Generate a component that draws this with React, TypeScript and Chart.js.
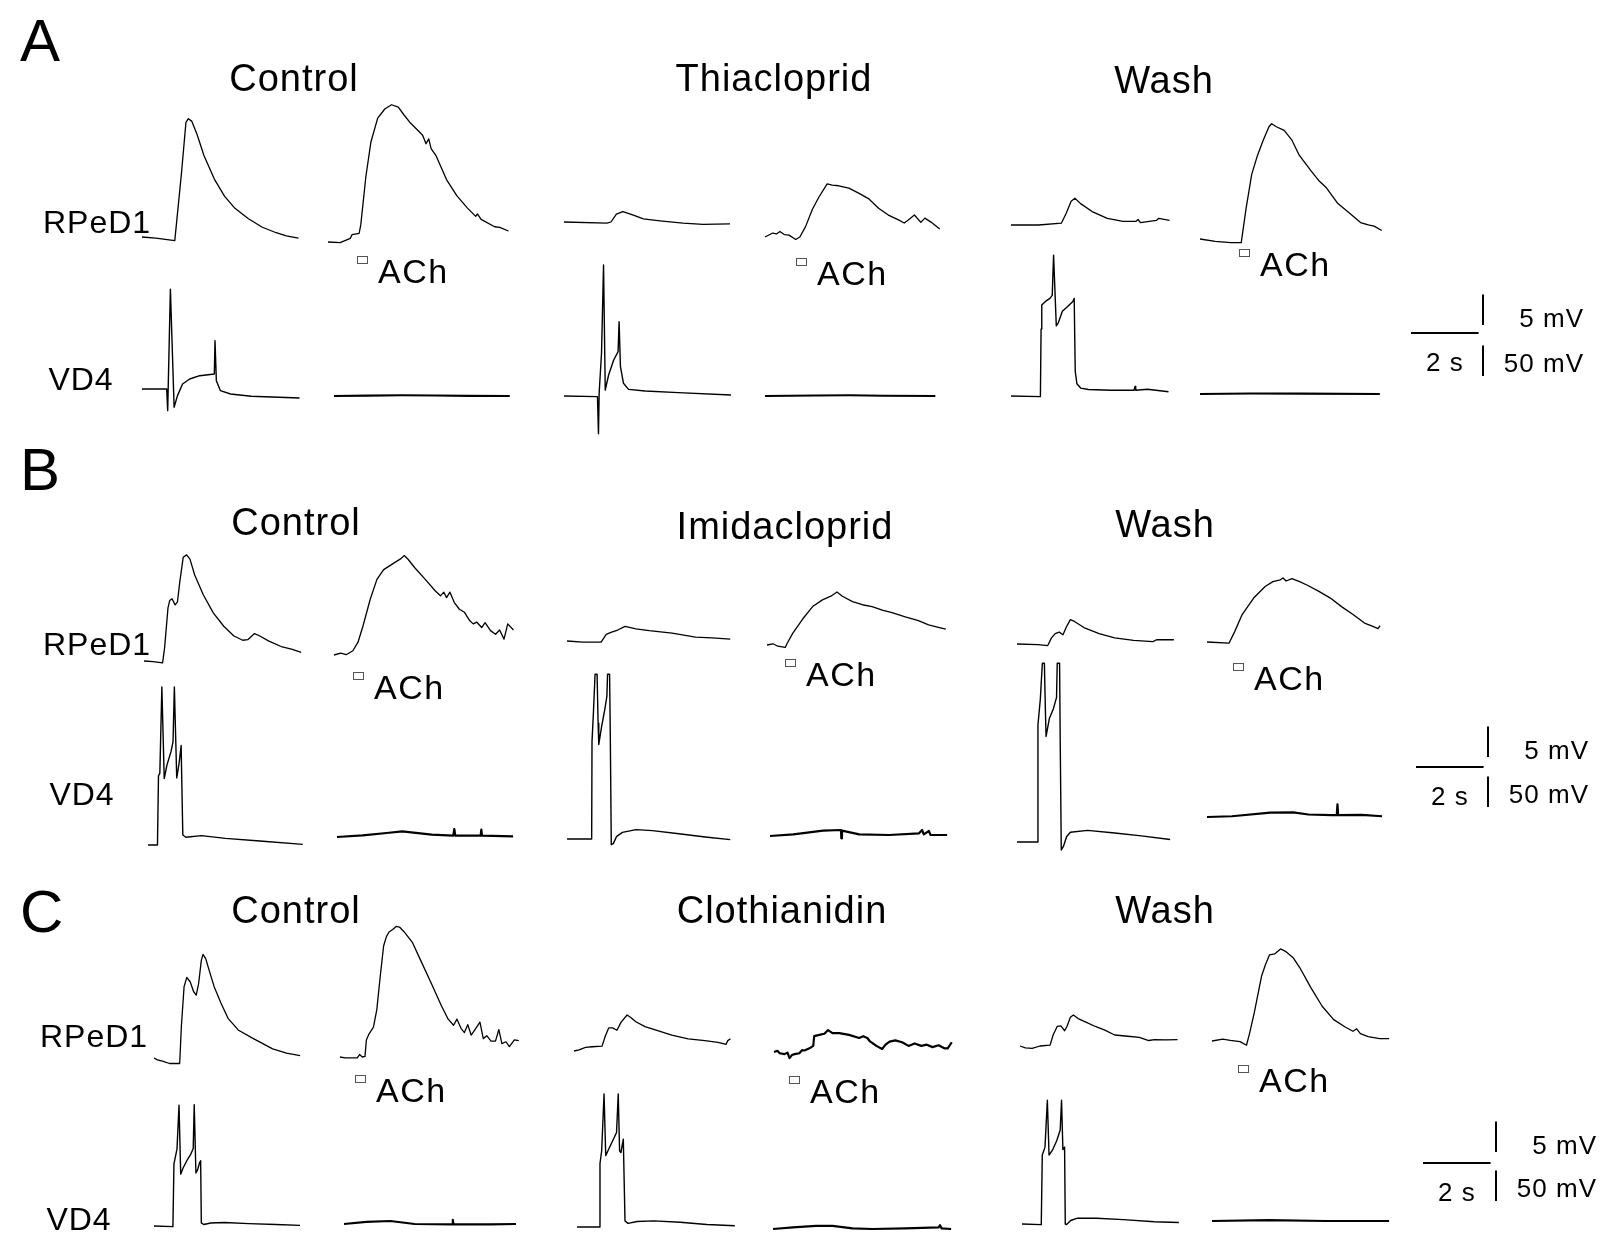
import { useEffect, useRef } from 'react';
import { Chart, registerables } from 'chart.js';

Chart.register(...registerables);

// ---- Recorded traces: [time from trace start (s), potential relative to trace start (mV)] ----

// Panel A – Thiacloprid
const A_CONTROL_RPED1_VD4: [number, number][] = [[0,0],[0.41,-0.2],[0.97,-0.6],[1.17,10.6],[1.30,18.8],[1.37,19.4],[1.47,19.0],[1.63,16.8],[1.83,13.4],[2.14,9.5],[2.44,6.7],[2.75,4.7],[3.15,3.0],[3.56,1.6],[3.97,0.7],[4.27,0.2],[4.63,-0.2]];
const A_CONTROL_RPED1_ACH: [number, number][] = [[0,0],[0.36,-0.1],[0.66,0.6],[0.71,1.2],[0.92,1.4],[0.97,2.8],[1.12,10.7],[1.27,16.4],[1.47,20.3],[1.68,21.8],[1.88,22.5],[2.08,22.1],[2.24,20.9],[2.44,19.5],[2.64,18.4],[2.80,17.5],[2.90,16.1],[2.98,16.9],[3.05,15.3],[3.20,14.1],[3.51,10.2],[3.81,7.6],[4.12,5.6],[4.37,4.2],[4.42,4.6],[4.53,3.7],[4.93,2.5],[5.08,2.4],[5.34,1.8]];
const A_CONTROL_VD4_STIM: [number, number][] = [[0,0],[0.73,0],[0.76,-35.5],[0.84,163.8],[0.95,-30],[1.05,-10.9],[1.20,8.2],[1.41,16.4],[1.71,21.8],[2.14,24.6],[2.16,79.2],[2.20,13.7],[2.32,-2.7],[2.62,-8.2],[3.23,-12],[4.66,-14.7]];
const A_CONTROL_VD4_ACH: [number, number][] = [[0,0],[1.0,0.6],[2.0,1.2],[3.0,0.8],[4.0,0.3],[5.2,0]];
const A_THIA_RPED1_VD4: [number, number][] = [[0,0],[1.27,-0.2],[1.39,0],[1.55,1.3],[1.74,1.7],[2.01,1.2],[2.35,0.5],[2.84,0.2],[3.52,-0.2],[4.11,-0.4],[4.91,-0.3]];
const A_THIA_RPED1_ACH: [number, number][] = [[0,0],[0.23,0.65],[0.34,0.5],[0.44,0.9],[0.57,0.4],[0.71,0.3],[0.91,-0.4],[1.03,0],[1.20,1.7],[1.40,4.5],[1.60,6.6],[1.84,8.7],[1.99,8.5],[2.18,8.4],[2.48,8.0],[2.77,7.2],[3.06,6.3],[3.36,4.7],[3.65,3.6],[3.95,2.8],[4.12,2.3],[4.24,2.8],[4.42,3.6],[4.61,2.4],[4.73,3.1],[4.92,2.4],[5.17,1.3]];
const A_THIA_VD4_STIM: [number, number][] = [[0,0],[0.99,-1.1],[1.02,-62],[1.04,4.4],[1.11,70],[1.17,214.8],[1.22,9.8],[1.32,34.4],[1.47,59],[1.60,72.7],[1.63,121.9],[1.67,48.1],[1.76,20.8],[1.91,10.9],[2.40,8.2],[3.38,5.5],[4.94,1.6]];
const A_THIA_VD4_ACH: [number, number][] = [[0,0],[1.5,0.8],[2.5,1.2],[3.5,0.4],[5.04,0]];
const A_WASH_RPED1_VD4: [number, number][] = [[0,0],[0.82,0],[1.49,0.3],[1.63,1.9],[1.78,3.9],[1.89,4.4],[2.06,3.5],[2.40,2.2],[2.85,1.1],[3.31,0.6],[3.70,0.6],[3.76,0.9],[3.83,0.4],[4.30,0.75],[4.37,1.1],[4.69,0.75]];
const A_WASH_RPED1_ACH: [number, number][] = [[0,0],[0.45,-0.4],[0.91,-0.6],[1.22,-0.6],[1.36,4.9],[1.53,10.6],[1.70,13.7],[1.87,16.2],[2.04,18.4],[2.12,18.9],[2.26,18.4],[2.49,17.8],[2.72,16.2],[2.94,13.7],[3.28,11.2],[3.51,9.6],[3.74,8.4],[4.08,5.8],[4.41,4.3],[4.75,2.7],[4.98,2.3],[5.15,2.1],[5.38,1.4]];
const A_WASH_VD4_STIM: [number, number][] = [[0,0],[0.87,-1],[0.89,110],[0.91,149],[1.02,155],[1.15,160],[1.22,165],[1.26,231],[1.30,173],[1.34,115],[1.40,120],[1.52,139],[1.66,146],[1.83,155],[1.87,160],[1.90,41],[1.95,20],[2.06,13],[2.29,10.6],[2.97,9.5],[3.64,9.5],[3.67,15.8],[3.69,9.5],[4.04,11],[4.66,6.9]];
const A_WASH_VD4_ACH: [number, number][] = [[0,0],[1.5,0.8],[3.0,0.5],[5.32,0]];

// Panel B – Imidacloprid
const B_CONTROL_RPED1_VD4: [number, number][] = [[0,0],[0.27,-0.1],[0.55,-0.3],[0.61,2.2],[0.71,8.7],[0.76,9.9],[0.83,10.2],[0.92,9.2],[0.99,9.7],[1.06,13.0],[1.16,17.0],[1.26,17.4],[1.36,16.7],[1.50,14.1],[1.75,10.9],[2.05,7.9],[2.36,5.7],[2.66,4.1],[2.92,3.4],[3.07,3.5],[3.27,4.5],[3.43,4.1],[3.68,3.3],[4.09,2.3],[4.39,1.9],[4.65,1.4]];
const B_CONTROL_RPED1_ACH: [number, number][] = [[0,0],[0.20,0.3],[0.36,0.05],[0.56,0.7],[0.71,2.1],[0.86,4.8],[1.07,9.1],[1.27,12.4],[1.47,14.0],[1.78,15.1],[1.98,15.8],[2.08,16.3],[2.19,15.7],[2.39,14.3],[2.70,12.4],[3.00,10.5],[3.15,9.7],[3.25,10.3],[3.33,9.4],[3.43,10.3],[3.56,8.6],[3.71,7.5],[3.86,7.0],[4.02,5.6],[4.12,5.1],[4.22,5.4],[4.37,4.5],[4.47,5.3],[4.63,4.0],[4.78,3.4],[4.90,4.1],[5.03,2.6],[5.14,5.1],[5.31,4.1]];
const B_CONTROL_VD4_STIM: [number, number][] = [[0,0],[0.28,0],[0.31,113.6],[0.35,117.4],[0.41,259],[0.48,109],[0.56,131],[0.68,153],[0.74,169],[0.78,259],[0.85,110],[0.92,134],[0.98,163],[1.03,16.4],[1.12,12.6],[1.58,15.3],[2.29,10.9],[3.31,6.6],[4.58,1.1]];
const B_CONTROL_VD4_ACH: [number, number][] = [[0,0],[0.76,2.7],[1.47,6.6],[1.93,9.3],[2.80,3.8],[3.44,2.2],[3.47,13.1],[3.50,2.2],[4.25,2.2],[4.27,12],[4.29,2.2],[5.21,1.1]];
const B_IMIDA_RPED1_VD4: [number, number][] = [[0,0],[0.47,-0.2],[1.01,-0.2],[1.16,1.1],[1.30,1.4],[1.50,1.8],[1.72,2.4],[2.04,2.0],[2.43,1.7],[3.11,1.3],[3.80,0.65],[4.29,0.5],[4.83,0.3]];
const B_IMIDA_RPED1_ACH: [number, number][] = [[0,0],[0.18,0.2],[0.32,-0.2],[0.54,-0.4],[0.59,0.2],[0.76,1.9],[1.06,4.3],[1.35,6.3],[1.64,7.4],[1.89,8.0],[2.07,8.7],[2.23,8.0],[2.53,7.1],[2.82,6.6],[3.11,6.3],[3.41,5.7],[3.70,5.3],[4.09,4.6],[4.48,4.0],[4.78,3.3],[5.07,2.9],[5.29,2.6]];
const B_IMIDA_VD4_STIM: [number, number][] = [[0,0],[0.73,0],[0.74,160],[0.78,205],[0.83,270],[0.89,270],[0.92,190],[0.94,155],[1.02,183],[1.12,213],[1.18,234],[1.20,270],[1.26,270],[1.28,175],[1.31,-9.3],[1.37,-7.6],[1.47,4.4],[1.64,10.9],[2.04,15.3],[2.53,13.7],[3.31,8.7],[4.09,3.3],[4.83,-1.1]];
const B_IMIDA_VD4_ACH: [number, number][] = [[0,0],[0.69,2.7],[1.57,8.7],[2.10,9.8],[2.11,-3.8],[2.13,8.7],[2.64,2.7],[3.52,1.6],[4.41,4.4],[4.50,9.8],[4.55,2.7],[4.70,8.2],[4.75,1.6],[5.24,1.6]];
const B_WASH_RPED1_VD4: [number, number][] = [[0,0],[0.62,-0.1],[0.91,-0.25],[1.02,1.0],[1.13,1.7],[1.25,1.95],[1.36,1.5],[1.47,2.9],[1.58,4.0],[1.70,3.7],[1.98,2.7],[2.43,1.7],[2.89,1.0],[3.45,0.6],[4.02,0.4],[4.13,0.7],[4.64,0.7]];
const B_WASH_RPED1_ACH: [number, number][] = [[0,0],[0.65,-0.2],[0.82,1.7],[1.04,4.5],[1.38,7.2],[1.72,9.1],[1.95,9.9],[2.17,10.2],[2.25,10.5],[2.34,10.0],[2.51,10.4],[2.74,9.9],[2.97,9.3],[3.31,8.3],[3.65,7.2],[3.98,5.8],[4.32,4.5],[4.66,3.1],[4.89,2.6],[5.06,2.2],[5.12,2.7]];
const B_WASH_VD4_STIM: [number, number][] = [[0,0],[0.60,0],[0.62,192],[0.69,234],[0.75,293],[0.81,293],[0.84,216],[0.86,173],[0.96,203],[1.08,219],[1.17,237],[1.19,293],[1.26,293],[1.28,157],[1.31,-13],[1.37,-7.7],[1.47,8.9],[1.58,16],[2.09,19],[2.89,14.8],[3.68,10],[4.53,4.1]];
const B_WASH_VD4_ACH: [number, number][] = [[0,0],[0.74,1.2],[1.87,7.1],[2.55,7.7],[3.00,4.1],[3.68,3],[3.84,3],[3.86,20.7],[3.88,3],[4.58,3.6],[5.18,1.2]];

// Panel C – Clothianidin
const C_CONTROL_RPED1_VD4: [number, number][] = [[0,0],[0.10,-0.3],[0.25,-0.5],[0.46,-0.9],[0.76,-0.9],[0.81,5.2],[0.89,11.7],[0.97,13.2],[1.07,12.5],[1.17,10.9],[1.25,10.3],[1.32,12.2],[1.40,16.0],[1.45,17.0],[1.53,16.3],[1.63,14.4],[1.78,11.7],[1.98,9.0],[2.19,6.5],[2.49,4.6],[2.90,3.3],[3.51,1.5],[3.92,0.8],[4.32,0.4]];
const C_CONTROL_RPED1_ACH: [number, number][] = [[0,0],[0.15,-0.15],[0.51,-0.15],[0.58,0.4],[0.66,0],[0.74,0.1],[0.78,2.8],[0.86,3.8],[0.99,4.9],[1.09,7.8],[1.19,13.2],[1.29,18.2],[1.37,19.7],[1.45,20.5],[1.56,20.9],[1.66,21.4],[1.76,21.3],[1.90,20.5],[2.14,18.8],[2.39,15.8],[2.70,12.1],[3.00,8.4],[3.20,6.2],[3.36,5.2],[3.46,6.2],[3.58,4.7],[3.68,4.0],[3.78,5.3],[3.88,3.6],[4.01,4.6],[4.14,5.7],[4.24,3.0],[4.34,3.5],[4.47,2.6],[4.60,2.6],[4.70,4.5],[4.79,2.2],[4.91,2.5],[5.01,1.7],[5.16,2.8],[5.29,2.7]];
const C_CONTROL_VD4_STIM: [number, number][] = [[0,0],[0.56,-1],[0.59,102],[0.68,126],[0.74,198],[0.79,85],[0.86,95],[0.99,109],[1.09,118],[1.16,127],[1.19,199],[1.24,87],[1.29,92],[1.35,104],[1.38,107],[1.40,5],[1.47,2.4],[1.68,4.9],[2.08,5.8],[2.80,3.9],[3.61,2.4],[4.32,1]];
const C_CONTROL_VD4_ACH: [number, number][] = [[0,0],[0.66,3.4],[1.37,4.9],[2.09,0],[3.20,-0.5],[3.22,6.8],[3.24,-0.5],[4.32,-0.5],[5.09,0]];
const C_CLOTH_RPED1_VD4: [number, number][] = [[0,0],[0.15,0.2],[0.34,0.6],[0.54,0.7],[0.83,0.8],[0.93,2.5],[1.03,3.8],[1.14,3.8],[1.27,3.4],[1.39,4.7],[1.57,5.9],[1.68,5.5],[1.83,4.8],[2.10,4.0],[2.50,3.3],[2.89,2.6],[3.38,2.0],[3.87,1.7],[4.26,1.4],[4.50,1.1],[4.55,1.7],[4.63,2.0]];
const C_CLOTH_RPED1_ACH: [number, number][] = [[0,0],[0.10,0.2],[0.17,-0.2],[0.31,-0.35],[0.40,-0.1],[0.46,-1.0],[0.53,-0.5],[0.61,-0.35],[0.75,-0.2],[0.83,0.3],[0.90,0.25],[1.05,0.6],[1.16,1.0],[1.19,2.6],[1.34,2.8],[1.49,3.0],[1.60,3.6],[1.73,3.1],[1.93,3.1],[2.22,2.8],[2.52,2.3],[2.64,2.6],[2.76,2.3],[2.83,1.8],[3.03,1.0],[3.20,0.5],[3.30,1.2],[3.42,1.7],[3.59,1.9],[3.79,1.6],[3.98,1.0],[4.16,1.4],[4.36,1.0],[4.52,1.2],[4.69,0.8],[4.87,1.1],[5.04,0.6],[5.14,0.6],[5.26,1.6]];
const C_CLOTH_VD4_STIM: [number, number][] = [[0,0],[0.66,0],[0.68,104],[0.73,125],[0.80,218],[0.85,117],[0.95,129],[1.07,143],[1.17,155],[1.22,218],[1.26,125],[1.30,122],[1.37,144],[1.42,10],[1.51,6],[1.78,9],[2.27,10],[3.05,7.8],[3.84,4.2],[4.67,2]];
const C_CLOTH_VD4_ACH: [number, number][] = [[0,0],[0.59,2.6],[1.27,5.2],[1.76,5.2],[2.35,1],[2.94,0],[3.92,1],[4.90,2.6],[4.94,6.2],[4.99,1],[5.27,0]];
const C_WASH_RPED1_VD4: [number, number][] = [[0,0],[0.16,-0.3],[0.36,-0.4],[0.59,0],[0.89,0.15],[0.98,1.8],[1.10,3.2],[1.21,3.3],[1.32,2.5],[1.39,3.2],[1.49,4.7],[1.58,5.1],[1.72,4.5],[1.95,3.9],[2.23,3.2],[2.51,2.6],[2.80,1.8],[3.19,1.6],[3.53,1.4],[3.81,0.9],[3.98,1.05],[4.32,1.0],[4.66,1.05]];
const C_WASH_RPED1_ACH: [number, number][] = [[0,0],[0.32,0.3],[0.54,0.1],[0.83,-0.1],[1.02,-0.7],[1.11,1.2],[1.25,4.6],[1.40,8.8],[1.47,10.7],[1.58,12.5],[1.70,14.1],[1.86,14.3],[2.03,15.1],[2.20,14.6],[2.41,13.6],[2.60,12.0],[2.92,8.8],[3.26,5.7],[3.60,3.5],[3.94,2.3],[4.17,1.6],[4.28,2.0],[4.39,1.2],[4.62,0.7],[4.96,0.4],[5.24,0.4]];
const C_WASH_VD4_STIM: [number, number][] = [[0,0],[0.57,-1],[0.60,113],[0.68,126],[0.75,203],[0.80,113],[0.91,122],[1.03,137],[1.13,154],[1.17,203],[1.21,122],[1.26,126],[1.28,0],[1.32,-1],[1.44,5.7],[1.64,9.5],[2.21,9.5],[3.00,7.1],[3.91,3.8],[4.64,2.4]];
const C_WASH_VD4_ACH: [number, number][] = [[0,0],[1.68,1.4],[3.37,0],[5.24,0]];

// ---- Labels ----
const PANEL_LETTERS = ['A', 'B', 'C'];
const PANEL_CONDITIONS = [
  ['Control', 'Thiacloprid', 'Wash'],
  ['Control', 'Imidacloprid', 'Wash'],
  ['Control', 'Clothianidin', 'Wash'],
];
const ROW_LABELS = ['RPeD1', 'VD4'];
const AGONIST_LABEL = 'ACh';

// ---- Scale bars ----
const SCALE_TIME_S = 2;
const SCALE_RPED1_MV = 5;
const SCALE_VD4_MV = 50;

// Traces per panel: for each condition [RPeD1 after VD4, RPeD1 with ACh, VD4 stimulated, VD4 with ACh]
const PANEL_TRACES = [
  [
    [A_CONTROL_RPED1_VD4, A_CONTROL_RPED1_ACH, A_CONTROL_VD4_STIM, A_CONTROL_VD4_ACH],
    [A_THIA_RPED1_VD4, A_THIA_RPED1_ACH, A_THIA_VD4_STIM, A_THIA_VD4_ACH],
    [A_WASH_RPED1_VD4, A_WASH_RPED1_ACH, A_WASH_VD4_STIM, A_WASH_VD4_ACH],
  ],
  [
    [B_CONTROL_RPED1_VD4, B_CONTROL_RPED1_ACH, B_CONTROL_VD4_STIM, B_CONTROL_VD4_ACH],
    [B_IMIDA_RPED1_VD4, B_IMIDA_RPED1_ACH, B_IMIDA_VD4_STIM, B_IMIDA_VD4_ACH],
    [B_WASH_RPED1_VD4, B_WASH_RPED1_ACH, B_WASH_VD4_STIM, B_WASH_VD4_ACH],
  ],
  [
    [C_CONTROL_RPED1_VD4, C_CONTROL_RPED1_ACH, C_CONTROL_VD4_STIM, C_CONTROL_VD4_ACH],
    [C_CLOTH_RPED1_VD4, C_CLOTH_RPED1_ACH, C_CLOTH_VD4_STIM, C_CLOTH_VD4_ACH],
    [C_WASH_RPED1_VD4, C_WASH_RPED1_ACH, C_WASH_VD4_STIM, C_WASH_VD4_ACH],
  ],
];

// Noisier recordings drawn with a heavier stroke
const HEAVY_TRACES = new Set<[number, number][]>([C_CLOTH_RPED1_ACH]);

// ---- Page layout (canvas pixels) ----
const W = 1602;
const H = 1254;
const PX_PER_S = 33.8;
const PX_PER_MV_RPED1 = 6.1;
const PX_PER_MV_VD4 = 0.61;
const FONT = '"Liberation Sans", Arial, sans-serif';

type Pt = [number, number];
interface PanelLayout {
  letterY: number;
  titles: Pt[];
  rowLabels: Pt[];
  ach: Pt[];
  bar: { x: number; y: number; vx: number; b5: number; b50: number };
  traces: Pt[][]; // per condition: start point (left, zero level) of each trace
}

const LAYOUT: PanelLayout[] = [
  {
    letterY: 39,
    titles: [[294, 77], [774, 77], [1164, 79]],
    rowLabels: [[97, 221], [81, 378]],
    ach: [[378, 271], [817, 273], [1260, 264]],
    bar: { x: 1411, y: 333, vx: 1483, b5: 325, b50: 376 },
    traces: [
      [[142, 237], [328, 242], [142, 389], [334, 396]],
      [[564, 222], [765, 237], [564, 396], [765, 396]],
      [[1011, 225], [1200, 239], [1011, 396], [1200, 394]],
    ],
  },
  {
    letterY: 468,
    titles: [[296, 521], [785, 525], [1165, 523]],
    rowLabels: [[97, 643], [82, 793]],
    ach: [[374, 687], [806, 674], [1254, 678]],
    bar: { x: 1416, y: 767, vx: 1488, b5: 757, b50: 807 },
    traces: [
      [[144, 661], [334, 655], [148, 845], [337, 837]],
      [[567, 641], [767, 645], [567, 839], [770, 836]],
      [[1017, 644], [1207, 642], [1017, 842], [1207, 817]],
    ],
  },
  {
    letterY: 910,
    titles: [[296, 909], [782, 909], [1165, 909]],
    rowLabels: [[94, 1035], [79, 1218]],
    ach: [[376, 1090], [810, 1091], [1259, 1080]],
    bar: { x: 1423, y: 1163, vx: 1496, b5: 1152, b50: 1201 },
    traces: [
      [[154, 1058], [340, 1057], [154, 1226], [344, 1224]],
      [[574, 1051], [774, 1052], [577, 1227], [773, 1229]],
      [[1020, 1046], [1212, 1041], [1022, 1224], [1212, 1221]],
    ],
  },
];

const sec = (px: number) => px / PX_PER_S;
const mvR = (py: number) => (H - py) / PX_PER_MV_RPED1;
const mvV = (py: number) => (H - py) / PX_PER_MV_VD4;

function buildDatasets() {
  const sets: any[] = [];
  PANEL_TRACES.forEach((panel, p) => {
    panel.forEach((cond, c) => {
      cond.forEach((trace, k) => {
        const [left, zero] = LAYOUT[p].traces[c][k];
        const isVD4 = k >= 2;
        const x0 = sec(left);
        const y0 = isVD4 ? mvV(zero) : mvR(zero);
        sets.push({
          data: trace.map(([t, v]) => ({ x: x0 + t, y: y0 + v })),
          yAxisID: isVD4 ? 'yV' : 'yR',
          borderColor: '#000',
          borderWidth: HEAVY_TRACES.has(trace) ? 2.2 : k === 3 ? 2.2 : k === 2 ? 1.4 : 1.3,
        });
      });
    });
    const b = LAYOUT[p].bar;
    const bar = (data: { x: number; y: number }[], axis: string) =>
      sets.push({ data, yAxisID: axis, borderColor: '#000', borderWidth: 2 });
    bar([{ x: sec(b.x), y: mvR(b.y) }, { x: sec(b.x) + SCALE_TIME_S, y: mvR(b.y) }], 'yR');
    bar([{ x: sec(b.vx), y: mvR(b.b5) }, { x: sec(b.vx), y: mvR(b.b5) + SCALE_RPED1_MV }], 'yR');
    bar([{ x: sec(b.vx), y: mvV(b.b50) }, { x: sec(b.vx), y: mvV(b.b50) + SCALE_VD4_MV }], 'yV');
  });
  return sets;
}

function drawText(ctx: CanvasRenderingContext2D, text: string, x: number, cy: number, size: number, align: CanvasTextAlign, spacing: number) {
  ctx.font = `${size}px ${FONT}`;
  (ctx as any).letterSpacing = `${spacing}px`;
  ctx.textAlign = align;
  ctx.textBaseline = 'alphabetic';
  ctx.fillText(text, x, cy + size * 0.36);
}

const labelsPlugin = {
  id: 'figureLabels',
  afterDraw(chart: Chart) {
    const ctx = chart.ctx;
    ctx.save();
    ctx.fillStyle = '#000';
    LAYOUT.forEach((L, p) => {
      drawText(ctx, PANEL_LETTERS[p], 20, L.letterY, 60, 'left', 0);
      PANEL_CONDITIONS[p].forEach((name, c) => {
        const [x, y] = L.titles[c];
        drawText(ctx, name, x, y, 38, 'center', 1);
      });
      ROW_LABELS.forEach((name, r) => {
        const [x, y] = L.rowLabels[r];
        drawText(ctx, name, x, y, 32, 'center', 1);
      });
      L.ach.forEach(([x, y]) => {
        drawText(ctx, AGONIST_LABEL, x, y, 34, 'left', 1.5);
        ctx.strokeStyle = '#555';
        ctx.lineWidth = 1;
        ctx.strokeRect(x - 20.5, y - 14.5, 10, 7);
      });
      const b = L.bar;
      drawText(ctx, `${SCALE_RPED1_MV} mV`, b.vx + 101, b.b5 - 7, 26, 'right', 1);
      drawText(ctx, `${SCALE_TIME_S} s`, b.x + (SCALE_TIME_S * PX_PER_S) / 2, b.y + 29, 26, 'center', 1);
      drawText(ctx, `${SCALE_VD4_MV} mV`, b.vx + 101, b.b50 - 13, 26, 'right', 1);
    });
    ctx.restore();
  },
};

export default function App() {
  const ref = useRef<HTMLCanvasElement | null>(null);

  useEffect(() => {
    if (!ref.current) return;
    const chart = new Chart(ref.current, {
      type: 'line',
      data: { datasets: buildDatasets() },
      options: {
        responsive: false,
        maintainAspectRatio: false,
        animation: false,
        events: [],
        layout: { padding: 0 },
        elements: {
          point: { radius: 0 },
          line: { tension: 0, borderJoinStyle: 'round', borderCapStyle: 'butt', fill: false },
        },
        plugins: {
          legend: { display: false },
          tooltip: { enabled: false },
          title: { display: false },
        },
        scales: {
          x: { type: 'linear', min: 0, max: W / PX_PER_S, display: false },
          yR: { type: 'linear', axis: 'y', min: 0, max: H / PX_PER_MV_RPED1, display: false },
          yV: { type: 'linear', axis: 'y', min: 0, max: H / PX_PER_MV_VD4, display: false },
        },
      } as any,
      plugins: [labelsPlugin],
    });
    return () => chart.destroy();
  }, []);

  return (
    <div style={{ position: 'absolute', left: 0, top: 0, width: W, height: H, background: '#fff' }}>
      <canvas ref={ref} width={W} height={H} style={{ display: 'block', width: W, height: H }} />
    </div>
  );
}
